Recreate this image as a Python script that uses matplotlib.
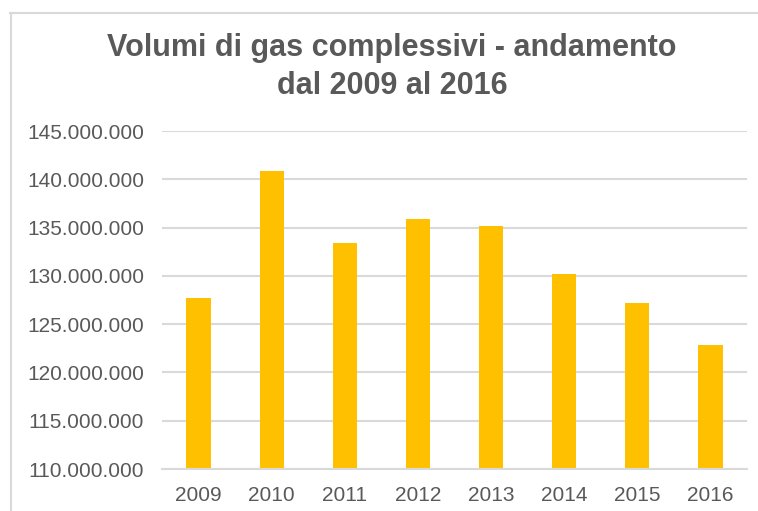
import matplotlib
matplotlib.use("Agg")
import matplotlib.pyplot as plt
from matplotlib.lines import Line2D
from matplotlib.ticker import FuncFormatter

# volumi di gas
anni = ["2009", "2010", "2011", "2012", "2013", "2014", "2015", "2016"]
volumi = [127730000, 140820000, 133450000, 135930000, 135200000, 130200000, 127150000, 122820000]
y_ticks = [110000000, 115000000, 120000000, 125000000, 130000000, 135000000, 140000000, 145000000]

testo = "#595959"
griglia = "#d9d9d9"
giallo = "#FFC000"

plt.rcParams['font.family'] = ['Liberation Sans', 'DejaVu Sans']

W, H = 758, 511
fig = plt.figure(figsize=(W / 100, H / 100), dpi=100)
ax = fig.add_axes([162 / W, 1 - 469 / H, (747 - 162) / W, (469 - 131) / H])

x = list(range(len(anni)))
ax.bar(x, volumi, width=0.33, color=giallo, zorder=3)

ax.set_xlim(-0.5, len(anni) - 0.5)
ax.set_ylim(y_ticks[0], y_ticks[-1])
ax.set_yticks(y_ticks)
ax.yaxis.set_major_formatter(FuncFormatter(lambda v, p: f"{v:,.0f}".replace(",", ".")))
ax.set_xticks(x)
ax.set_xticklabels(anni)

ax.grid(axis="y", color=griglia, linewidth=1.5, zorder=0)
for s in ["top", "right", "left"]:
    ax.spines[s].set_visible(False)
ax.spines["bottom"].set_color(griglia)
ax.spines["bottom"].set_linewidth(1.5)
ax.spines["bottom"].set_zorder(4)
ax.tick_params(axis="both", length=0, labelsize=15, labelcolor=testo)
ax.tick_params(axis="y", pad=13)
ax.tick_params(axis="x", pad=12)

fig.text(392 / W, 1 - 48 / H, "Volumi di gas complessivi - andamento", ha="center", va="center",
         fontsize=22, fontweight="bold", color=testo)
fig.text(392 / W, 1 - 86 / H, "dal 2009 al 2016", ha="center", va="center",
         fontsize=22, fontweight="bold", color=testo)

# bordo del riquadro (solo sopra e a sinistra, il resto è tagliato)
fig.add_artist(Line2D([10 / W, 1], [1 - 13.5 / H, 1 - 13.5 / H], color=griglia, linewidth=1.5))
fig.add_artist(Line2D([11 / W, 11 / W], [0, 1 - 13.5 / H], color=griglia, linewidth=1.5))

fig.savefig("out.png", dpi=100)
